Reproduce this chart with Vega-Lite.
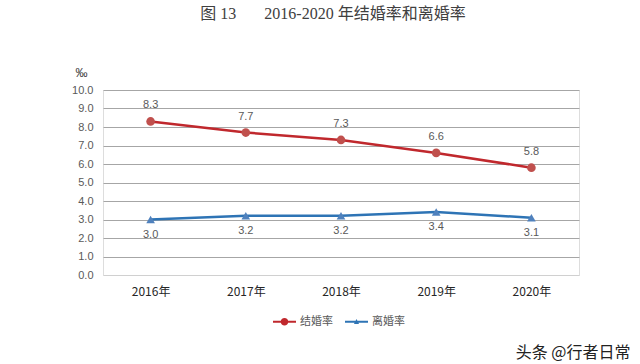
{
  "$schema": "https://vega.github.io/schema/vega-lite/v6.json",
  "width": 476,
  "height": 185,
  "autosize": "none",
  "padding": {"left": 103, "top": 90, "right": 61, "bottom": 89},
  "background": "white",
  "title": {
    "text": "图 13\u2003\u2002 2016-2020 年结婚率和离婚率",
    "font": "Liberation Serif, Noto Sans CJK SC",
    "fontSize": 16,
    "fontWeight": "normal",
    "color": "#404040",
    "anchor": "middle",
    "offset": 44,
    "dx": -8
  },
  "data": {
    "values": [
      {"year": "2016年", "series": "结婚率", "value": 8.3},
      {"year": "2017年", "series": "结婚率", "value": 7.7},
      {"year": "2018年", "series": "结婚率", "value": 7.3},
      {"year": "2019年", "series": "结婚率", "value": 6.6},
      {"year": "2020年", "series": "结婚率", "value": 5.8},
      {"year": "2016年", "series": "离婚率", "value": 3.0},
      {"year": "2017年", "series": "离婚率", "value": 3.2},
      {"year": "2018年", "series": "离婚率", "value": 3.2},
      {"year": "2019年", "series": "离婚率", "value": 3.4},
      {"year": "2020年", "series": "离婚率", "value": 3.1}
    ]
  },
  "encoding": {
    "x": {
      "field": "year",
      "type": "ordinal",
      "sort": null,
      "scale": {"type": "point", "padding": 0.5},
      "axis": {
        "title": "头条 @行者日常",
        "titleX": 527,
        "titleY": 77,
        "titleAlign": "right",
        "titleBaseline": "middle",
        "titleFont": "Noto Sans CJK SC",
        "titleFontSize": 16,
        "titleFontWeight": "normal",
        "titleColor": "#222222",
        "labelAngle": 0,
        "labelFont": "Noto Sans CJK SC",
        "labelFontSize": 12,
        "labelColor": "#262626",
        "labelPadding": 11,
        "ticks": false,
        "domain": false,
        "grid": false
      }
    },
    "y": {
      "field": "value",
      "type": "quantitative",
      "scale": {"domain": [0, 10], "nice": false},
      "axis": {
        "values": [0, 1, 2, 3, 4, 5, 6, 7, 8, 9, 10],
        "format": ".1f",
        "labelFont": "Liberation Sans",
        "labelFontSize": 11,
        "labelColor": "#595959",
        "labelPadding": 10,
        "ticks": false,
        "domain": false,
        "grid": true,
        "gridColor": {"condition": {"test": "datum.value === 0", "value": "#d0d0d0"}, "value": "#a6a6a6"},
        "gridWidth": 1,
        "title": "‰",
        "titleAngle": 0,
        "titleX": -22,
        "titleY": -18,
        "titleAlign": "center",
        "titleBaseline": "middle",
        "titleFont": "Liberation Sans",
        "titleFontSize": 12,
        "titleFontWeight": "normal",
        "titleColor": "#404040"
      }
    }
  },
  "layer": [
    {
      "mark": {"type": "line", "strokeWidth": 2.5},
      "encoding": {
        "color": {
          "field": "series",
          "type": "nominal",
          "scale": {"domain": ["结婚率", "离婚率"], "range": ["#C0282D", "#2E74B5"]},
          "legend": {
            "orient": "none",
            "legendX": 170,
            "legendY": 220,
            "direction": "horizontal",
            "title": null,
            "labelFont": "Noto Sans CJK SC",
            "labelFontSize": 11,
            "labelColor": "#595959",
            "labelOffset": 4,
            "columnPadding": 12,
            "symbolSize": 529,
            "symbolStrokeWidth": 0,
            "symbolType": "M-1,-0.09H1V0.09H-1Z M0.33,0A0.33,0.33 0 1,1 -0.33,0A0.33,0.33 0 1,1 0.33,0Z",
            "encode": {
              "symbols": {
                "update": {
                  "shape": {"signal": "datum.value === '结婚率' ? 'M-1,-0.09H1V0.09H-1Z M0.33,0A0.33,0.33 0 1,1 -0.33,0A0.33,0.33 0 1,1 0.33,0Z' : 'M-1,-0.09H1V0.09H-1Z M0,-0.25L0.22,0.2L-0.22,0.2Z'"},
                  "fill": {"scale": "color", "field": "value"},
                  "fillOpacity": {"value": 1},
                  "strokeWidth": {"value": 0}
                }
              }
            }
          }
        }
      }
    },
    {
      "transform": [{"filter": "datum.series === '结婚率'"}],
      "mark": {"type": "point", "filled": true, "size": 75, "opacity": 1, "shape": "circle", "color": "#C0504D"}
    },
    {
      "transform": [{"filter": "datum.series === '离婚率'"}],
      "mark": {"type": "point", "filled": true, "size": 75, "opacity": 1, "shape": "triangle-up", "color": "#4F81BD"}
    },
    {
      "transform": [{"filter": "datum.series === '结婚率'"}],
      "mark": {"type": "text", "dy": -16, "fontSize": 11, "font": "Liberation Sans", "color": "#595959"},
      "encoding": {"text": {"field": "value", "type": "quantitative", "format": ".1f"}}
    },
    {
      "transform": [{"filter": "datum.series === '离婚率'"}],
      "mark": {"type": "text", "dy": 15, "fontSize": 11, "font": "Liberation Sans", "color": "#595959"},
      "encoding": {"text": {"field": "value", "type": "quantitative", "format": ".1f"}}
    }
  ]
}
